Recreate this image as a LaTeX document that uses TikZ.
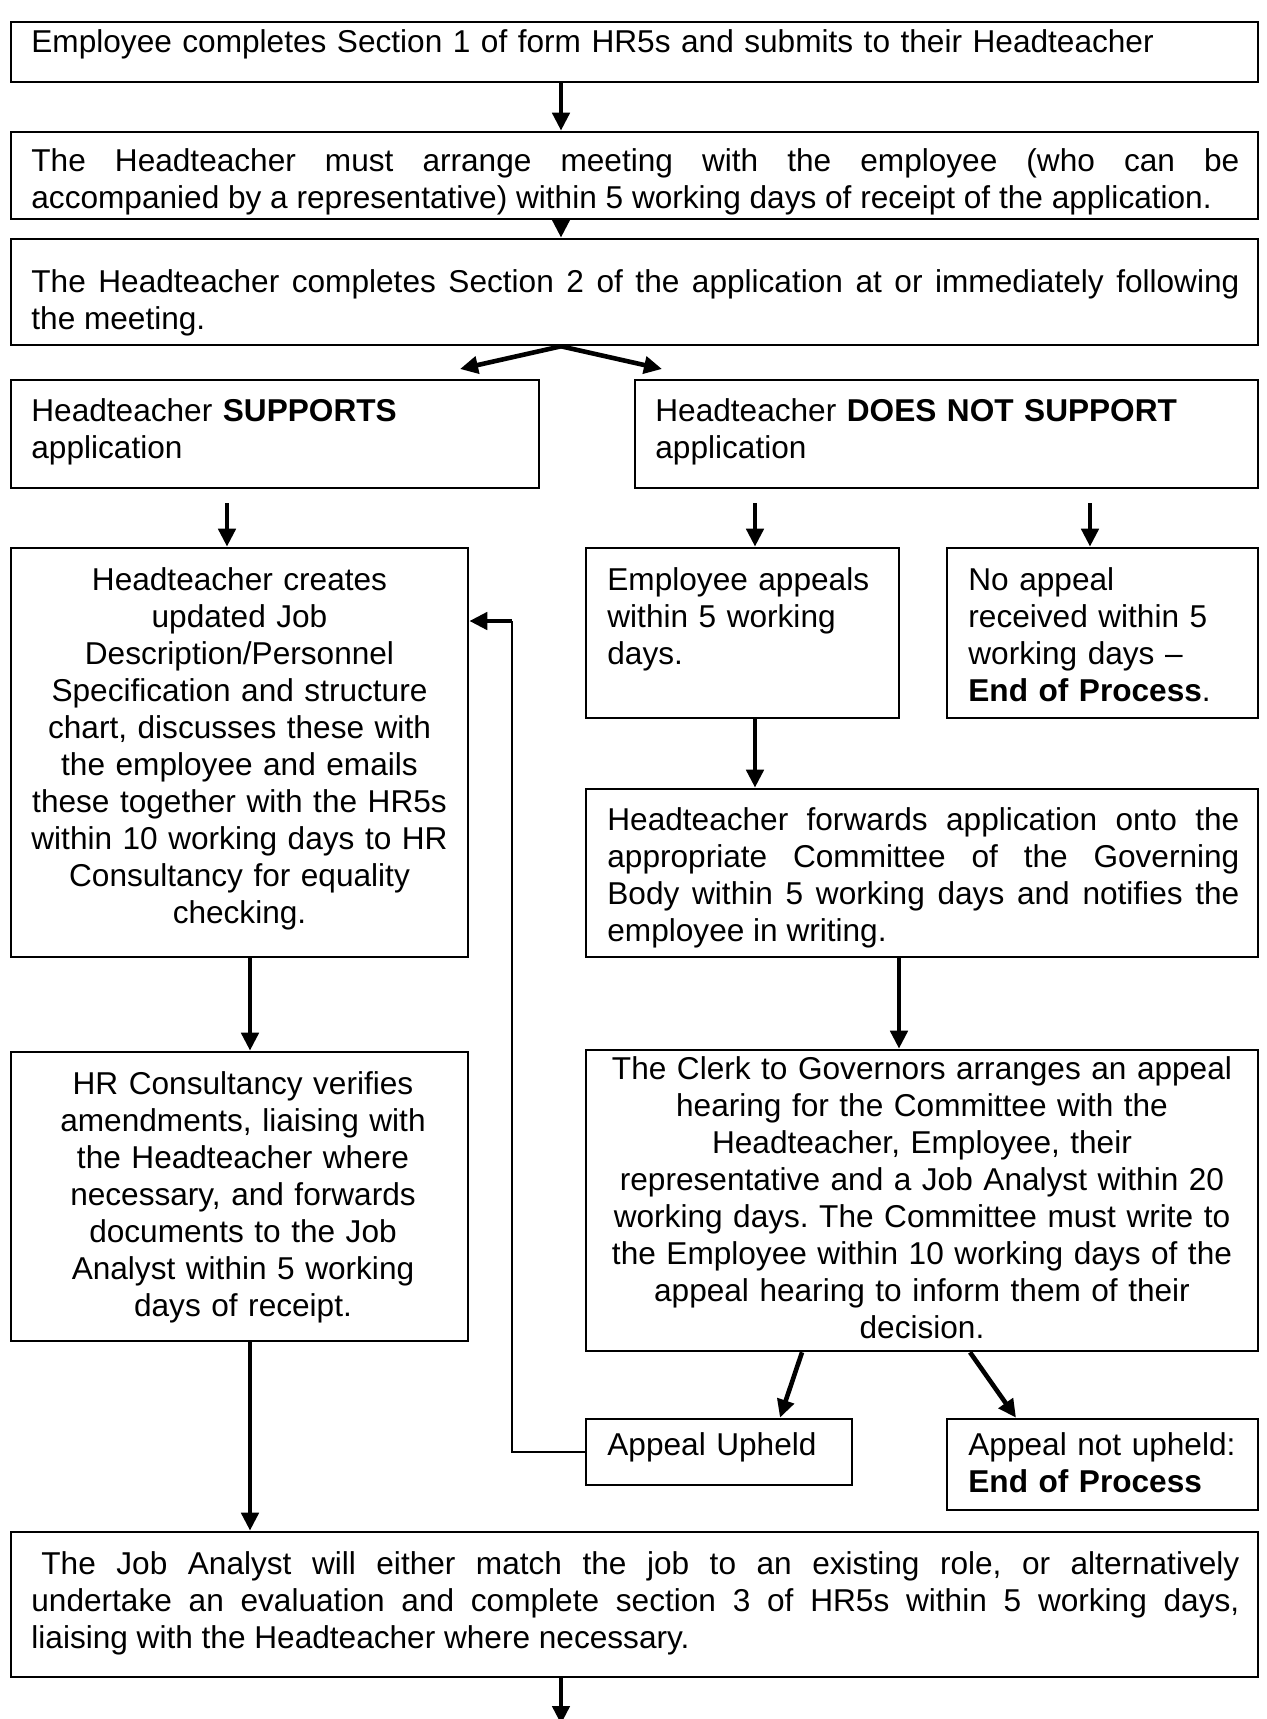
\documentclass[tikz,border=0pt]{standalone}
\usepackage{fontspec}
\setmainfont{Liberation Sans}
\usetikzlibrary{fit,arrows.meta}
\begin{document}
\frenchspacing
\hyphenpenalty=10000
\exhyphenpenalty=10000
\begin{tikzpicture}[x=0.5pt,y=-0.5pt,
  box/.style={draw,line width=1.3pt,inner sep=0pt},
  txt/.style={inner sep=0pt,anchor=base west,font=\fontsize{15.8pt}{18.5pt}\selectfont},
  ltxt/.style={txt,align=left},
  jtxt/.style={txt,align=justify},
  ctxt/.style={txt,anchor=base,align=center},
  arr/.style={line width=2.3pt,-{Triangle[length=9pt,width=8.5pt]}},
  conn/.style={line width=1.3pt}]
\useasboundingbox (0,0) rectangle (1266,1719);
% boxes
\node[box,fit={(11,22) (1258,82)}] (b1) {};
\node[box,fit={(11,132) (1258,219)}] (b2) {};
\node[box,fit={(11,239) (1258,345)}] (b3) {};
\node[box,fit={(11,380) (539,488)}] (b4) {};
\node[box,fit={(635,380) (1258,488)}] (b5) {};
\node[box,fit={(11,548) (468,957)}] (b6) {};
\node[box,fit={(586,548) (899,718)}] (b7) {};
\node[box,fit={(947,548) (1258,718)}] (b8) {};
\node[box,fit={(586,789) (1258,957)}] (b9) {};
\node[box,fit={(11,1052) (468,1341)}] (b10) {};
\node[box,fit={(586,1050) (1258,1351)}] (b11) {};
\node[box,fit={(586,1419) (852,1485)}] (b12) {};
\node[box,fit={(947,1419) (1258,1510)}] (b13) {};
\node[box,fit={(11,1532) (1258,1677)}] (b14) {};
% texts
\node[ltxt,text width=610pt] (t1) at (31,52) {Employee completes Section 1 of form HR5s and submits to their Headteacher};
\node[jtxt,text width=604pt] (t2) at (31,171) {\parfillskip=0pt The Headteacher must arrange meeting with the employee (who can be\linebreak accompanied by a representative) within 5 working days of receipt of the application.};
\node[jtxt,text width=604pt] (t3) at (31,292) {The Headteacher completes Section 2 of the application at or immediately following\linebreak the meeting.};
\node[ltxt,text width=250pt] (t4) at (31,421) {Headteacher \textbf{SUPPORTS}\\application};
\node[ltxt,text width=300pt] (t5) at (655,421) {Headteacher \textbf{DOES NOT SUPPORT}\\application};
\node[ctxt,text width=226pt] (t6) at (239.5,590) {Headteacher creates\\updated Job\\Description/Personnel\\Specification and structure\\chart, discusses these with\\the employee and emails\\these together with the HR5s\\within 10 working days to HR\\Consultancy for equality\\checking.};
\node[ltxt,text width=150pt] (t7) at (607,590) {Employee appeals\\within 5 working\\days.};
\node[ltxt,text width=150pt] (t8) at (968,590) {No appeal\\received within 5\\working days --\\\textbf{End of Process}.};
\node[jtxt,text width=316pt] (t9) at (607,830) {Headteacher forwards application onto the\linebreak appropriate Committee of the Governing\linebreak Body within 5 working days and notifies the\linebreak employee in writing.};
\node[ctxt,text width=226pt] (t10) at (243,1094) {HR Consultancy verifies\\amendments, liaising with\\the Headteacher where\\necessary, and forwards\\documents to the Job\\Analyst within 5 working\\days of receipt.};
\node[ctxt,text width=334pt] (t11) at (922,1079) {The Clerk to Governors arranges an appeal\\hearing for the Committee with the\\Headteacher, Employee, their\\representative and a Job Analyst within 20\\working days. The Committee must write to\\the Employee within 10 working days of the\\appeal hearing to inform them of their\\decision.};
\node[ltxt,text width=125pt] (t12) at (607,1455) {Appeal Upheld};
\node[ltxt,text width=150pt] (t13) at (968,1455) {Appeal not upheld:\\\textbf{End of Process}};
\node[jtxt,text width=604pt] (t14) at (31,1574) {\hspace*{5pt}The Job Analyst will either match the job to an existing role, or alternatively\linebreak undertake an evaluation and complete section 3 of HR5s within 5 working days,\linebreak liaising with the Headteacher where necessary.};
% connectors
\coordinate (fl) at (460,369);
\coordinate (fr) at (662,369);
\coordinate (fbk) at (512,621);
\coordinate (endpt) at (561,1724);
\draw[arr] (561,0 |- b1.south) -- (561,0 |- b2.north);
\draw[arr] (561,0 |- b2.south) -- (561,0 |- b3.north);
\draw[arr] (561,0 |- b3.south) -- (fl);
\draw[arr] (561,0 |- b3.south) -- (fr);
\draw[arr,shorten <=7pt] (227,0 |- b4.south) -- (227,0 |- b6.north);
\draw[arr,shorten <=7pt] (755,0 |- b5.south) -- (755,0 |- b7.north);
\draw[arr,shorten <=7pt] (1090,0 |- b5.south) -- (1090,0 |- b8.north);
\draw[arr] (755,0 |- b7.south) -- (755,0 |- b9.north);
\draw[arr] (250,0 |- b6.south) -- (250,0 |- b10.north);
\draw[arr] (899,0 |- b9.south) -- (899,0 |- b11.north);
\draw[arr] (802,0 |- b11.south) -- (780,0 |- b12.north);
\draw[arr] (970,0 |- b11.south) -- (1016,0 |- b13.north);
\draw[conn] (b12.west) -| (fbk);
\draw[arr] (fbk) -- (b6.east |- fbk);
\draw[arr] (250,0 |- b10.south) -- (250,0 |- b14.north);
\draw[arr] (561,0 |- b14.south) -- (endpt);
\end{tikzpicture}
\end{document}
